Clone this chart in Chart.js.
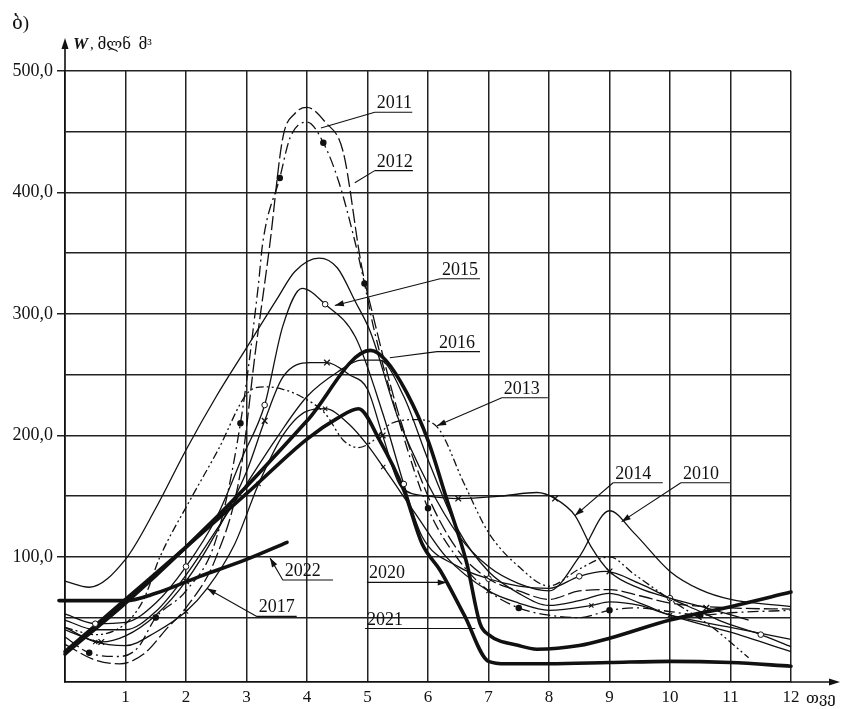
<!DOCTYPE html>
<html>
<head>
<meta charset="utf-8">
<script src="https://cdn.jsdelivr.net/npm/chart.js@4.4.1/dist/chart.umd.min.js"></script>
<style>
html, body { margin: 0; padding: 0; background: #fff; }
#wrap { width: 842px; height: 709px; }
</style>
</head>
<body>
<div id="wrap"><canvas id="chartW" width="842" height="709"></canvas></div>
<script>
// monthly water volume W, million m3 - points as [month, W]
const w2010 = [[0,80],[0.4,75],[1,98],[1.5,140],[2,188],[2.5,232],[3,272],[3.5,312],[3.8,335],[4.2,346],[4.5,338],[4.8,310],[5.05,285],[5.5,215],[6,160],[6.5,118],[7,92],[7.5,78],[8,72],[8.5,100],[9,138],[9.4,120],[10,88],[10.5,73],[11,65],[12,59]];
const w2011 = [[0,28],[0.5,15],[0.9,12],[1.3,20],[1.7,42],[2,58],[2.5,100],[2.9,170],[3.15,270],[3.38,355],[3.6,445],[3.8,465],[4,470],[4.3,458],[4.6,433],[4.9,340],[5.1,297],[5.5,220],[6,150],[6.5,105],[7,82],[7.5,72],[8,65],[8.5,72],[9,73],[9.5,68],[10,62],[11,58],[12,57]];
const w2012 = [[0,34],[0.4,21],[0.9,18],[1.2,25],[1.5,50],[2,72],[2.5,115],[2.9,210],[3.19,321],[3.27,359],[3.55,412],[3.72,445],[4,458],[4.27,441],[4.53,408],[4.8,358],[4.95,325],[5.1,289],[5.5,215],[6,140],[6.5,98],[7,72],[7.5,58],[8,52],[8.5,50],[9,56],[9.45,58],[10,55],[10.5,52],[11,54],[12,56]];
const w2013 = [[0,42],[0.5,36],[1,45],[1.3,65],[1.57,100],[2.07,147],[2.53,188],[3.02,235],[3.3,240],[3.6,238],[3.9,232],[4.3,218],[4.6,196],[4.85,190],[5.05,194],[5.4,210],[5.8,213],[6.15,207],[6.6,160],[7,120],[7.5,92],[8,76],[8.5,90],[9,100],[9.4,86],[10,65],[10.7,42],[11.3,17]];
const w2014 = [[0,40],[0.6,30],[1,35],[1.5,52],[2,80],[2.5,120],[3,170],[3.3,212],[3.6,248],[4.05,260],[4.33,260],[4.7,250],[5,238],[5.25,200],[5.55,158],[6,150],[6.5,148],[7.2,150],[7.8,153],[8.1,148],[8.43,134],[8.7,108],[9,88],[9.5,74],[10,66],[10.6,58],[11.3,48]];
const w2015 = [[0,53],[0.5,45],[1,46],[1.5,62],[2,92],[2.5,132],[2.93,182],[3.3,225],[3.6,290],[3.92,321],[4.3,308],[4.8,281],[5.26,217],[5.6,160],[5.9,117],[6.5,92],[7,82],[7.5,76],[8,74],[8.5,84],[8.93,88],[9.5,78],[10,66],[10.5,55],[10.9,46],[11.5,36],[12,26]];
const w2016 = [[0,48],[0.5,40],[1,40],[1.5,55],[2,85],[2.5,122],[3,160],[3.5,198],[4,232],[4.5,252],[4.9,262],[5.2,262],[5.6,232],[6,180],[6.5,122],[7,88],[7.5,70],[8,60],[8.5,64],[9,70],[9.5,62],[10,52],[11,38],[12,22]];
const w2017 = [[0,42],[0.5,30],[1,27],[1.5,38],[2,55],[2.35,74],[2.8,110],[3.2,160],[3.6,200],[4,220],[4.3,222],[4.7,209],[5,192],[5.26,174],[5.8,135],[6.3,100],[7,72],[7.5,62],[8,56],[8.7,60],[9,63],[9.5,60],[10,52],[11,42],[12,32]];
const w2020 = [[0,22],[1,65],[2,108],[3,152],[4,197],[4.5,214],[4.85,222],[5.2,196],[5.6,155],[5.9,111],[6.2,89],[6.6,52],[7,14],[7.3,12],[8,12],[9,13],[10,14],[11,13],[12,10]];
const w2021 = [[0,20],[1,62],[2,108],[3,158],[4,212],[5.05,270],[5.3,262],[5.65,235],[6,196],[6.3,149],[6.64,95],[6.86,45],[7,36],[7.5,27],[7.8,24],[8.5,27],[9,33],[10,48],[11,59],[12,71]];
const w2022 = [[-0.1,64],[1,64],[1.5,70],[2.23,84],[3,98],[3.67,112]];

const monthTicks = [1,2,3,4,5,6,7,8,9,10,11,12];
const volumeTicks = [50,100,150,200,250,300,350,400,450,500];

// year labels: underline from x1..x2 at y, leader to the tip (data units)
const yearNotes = [
  { text: '2011', x1: 5.12, x2: 5.74, y: 466, tipX: 4.23, tipY: 453, head: false },
  { text: '2012', x1: 5.12, x2: 5.75, y: 418, tipX: 4.79, tipY: 408, head: false },
  { text: '2015', x1: 6.2, x2: 6.86, y: 329, tipX: 4.46, tipY: 307, head: true },
  { text: '2016', x1: 6.15, x2: 6.86, y: 269, tipX: 5.37, tipY: 264, head: false },
  { text: '2013', x1: 7.22, x2: 7.98, y: 231, tipX: 6.15, tipY: 208, head: true },
  { text: '2014', x1: 9.06, x2: 9.88, y: 161, tipX: 8.43, tipY: 134, head: true },
  { text: '2010', x1: 10.18, x2: 10.99, y: 161, tipX: 9.2, tipY: 129, head: true },
  { text: '2022', x1: 3.6, x2: 4.43, y: 81, tipX: 3.39, tipY: 99, head: true },
  { text: '2017', x1: 3.17, x2: 3.83, y: 51, tipX: 2.35, tipY: 74, head: true },
  { text: '2020', x1: 4.99, x2: 5.75, y: 79, tipX: 6.31, tipY: 79, head: true },
  { text: '2021', x1: 4.96, x2: 5.75, y: 41, tipX: 6.78, tipY: 41, head: false }
];

const serif = "'Liberation Serif', 'DejaVu Serif', serif";

function pts(arr) {
  return arr.map(p => ({ x: p[0], y: p[1] }));
}

function everyThird(r) {
  return ctx => (ctx.dataIndex % 3 === 1 ? r : 0);
}

function thin(label, arr, extra) {
  return Object.assign({
    label: label,
    data: pts(arr),
    borderColor: '#111',
    borderWidth: 1.3,
    pointRadius: 0,
    pointBackgroundColor: '#111',
    pointBorderColor: '#111',
    fill: false,
    clip: 8,
    cubicInterpolationMode: 'monotone'
  }, extra || {});
}

function thick(label, arr) {
  return thin(label, arr, { borderWidth: 3.6, borderCapStyle: 'round', borderJoinStyle: 'round' });
}

const datasets = [
  thin('2010', w2010),
  thin('2011', w2011, { borderDash: [14, 4] }),
  thin('2012', w2012, { borderDash: [11, 4, 2, 4], pointRadius: everyThird(2.6), pointStyle: 'circle' }),
  thin('2013', w2013, { borderDash: [8, 3, 2, 3, 2, 3] }),
  thin('2014', w2014, { pointRadius: everyThird(4), pointStyle: 'crossRot', pointBorderWidth: 1.3 }),
  thin('2015', w2015, { pointRadius: everyThird(2.8), pointStyle: 'circle', pointBackgroundColor: '#fff', pointBorderWidth: 1 }),
  thin('2016', w2016),
  thin('2017', w2017, { pointRadius: everyThird(3), pointStyle: 'crossRot', pointBorderWidth: 1.1 }),
  thick('2020', w2020),
  thick('2021', w2021),
  thick('2022', w2022)
];

function arrowHead(ctx, fx, fy, tx, ty, len, half) {
  const a = Math.atan2(ty - fy, tx - fx);
  ctx.beginPath();
  ctx.moveTo(tx, ty);
  ctx.lineTo(tx - len * Math.cos(a) + half * Math.sin(a), ty - len * Math.sin(a) - half * Math.cos(a));
  ctx.lineTo(tx - len * Math.cos(a) - half * Math.sin(a), ty - len * Math.sin(a) + half * Math.cos(a));
  ctx.closePath();
  ctx.fill();
}

const decorPlugin = {
  id: 'decor',
  afterDraw(chart) {
    const { ctx, chartArea, scales } = chart;
    const xs = scales.x, ys = scales.y;
    ctx.save();
    ctx.strokeStyle = '#111';
    ctx.fillStyle = '#111';
    ctx.lineWidth = 1.6;

    // axis arrows
    ctx.beginPath();
    ctx.moveTo(chartArea.left, chartArea.top);
    ctx.lineTo(chartArea.left, 44);
    ctx.moveTo(chartArea.right, chartArea.bottom);
    ctx.lineTo(834, chartArea.bottom);
    ctx.stroke();
    arrowHead(ctx, chartArea.left, 100, chartArea.left, 38, 11, 3.5);
    arrowHead(ctx, 700, chartArea.bottom, 840, chartArea.bottom, 11, 3.5);

    // texts
    ctx.textBaseline = 'alphabetic';
    ctx.textAlign = 'left';
    ctx.font = '19px ' + serif;
    ctx.fillText('ბ)', 12, 29);
    ctx.font = 'italic bold 17px ' + serif;
    ctx.fillText('W', 73, 49);
    ctx.font = '15px ' + serif;
    ctx.fillText(', მლნ  მ³', 90, 49);
    ctx.fillText('თვე', 806, 703);

    // year labels
    ctx.font = '18px ' + serif;
    ctx.lineWidth = 1.1;
    yearNotes.forEach(n => {
      const x1 = xs.getPixelForValue(n.x1);
      const x2 = xs.getPixelForValue(n.x2);
      const y = ys.getPixelForValue(n.y);
      const tx = xs.getPixelForValue(n.tipX);
      const ty = ys.getPixelForValue(n.tipY);
      const from = n.tipX < n.x1 ? x1 : x2;
      ctx.fillText(n.text, x1 + 2, y - 4);
      ctx.beginPath();
      ctx.moveTo(x1, y);
      ctx.lineTo(x2, y);
      ctx.moveTo(from, y);
      ctx.lineTo(tx, ty);
      ctx.stroke();
      if (n.head) arrowHead(ctx, from, y, tx, ty, 9, 3);
    });
    ctx.restore();
  }
};

new Chart(document.getElementById('chartW'), {
  type: 'line',
  data: { datasets: datasets },
  options: {
    responsive: false,
    animation: false,
    devicePixelRatio: 1,
    layout: { padding: { top: 71, right: 51, left: 0, bottom: 0 } },
    plugins: {
      legend: { display: false },
      tooltip: { enabled: false }
    },
    scales: {
      x: {
        type: 'linear',
        min: 0,
        max: 12,
        afterBuildTicks: s => { s.ticks = [0].concat(monthTicks).map(v => ({ value: v })); },
        afterFit: s => { s.height = 27; },
        ticks: {
          callback: v => (v === 0 ? '' : String(v)),
          color: '#111',
          padding: 5,
          maxRotation: 0,
          font: { family: serif, size: 17 }
        },
        grid: { color: '#222', lineWidth: 1.5, drawTicks: false },
        border: { color: '#111', width: 1.7 }
      },
      y: {
        type: 'linear',
        min: -3,
        max: 500,
        afterBuildTicks: s => { s.ticks = volumeTicks.map(v => ({ value: v })); },
        afterFit: s => { s.width = 65; },
        ticks: {
          callback: v => (v % 100 === 0 ? v.toFixed(1).replace('.', ',') : ''),
          color: '#111',
          padding: 4,
          font: { family: serif, size: 18 }
        },
        grid: {
          color: '#222',
          lineWidth: 1.5,
          tickLength: 8,
          tickColor: c => (c.tick && c.tick.value % 100 === 0 ? '#222' : 'rgba(0,0,0,0)')
        },
        border: { color: '#111', width: 1.7 }
      }
    }
  },
  plugins: [decorPlugin]
});
</script>
</body>
</html>
